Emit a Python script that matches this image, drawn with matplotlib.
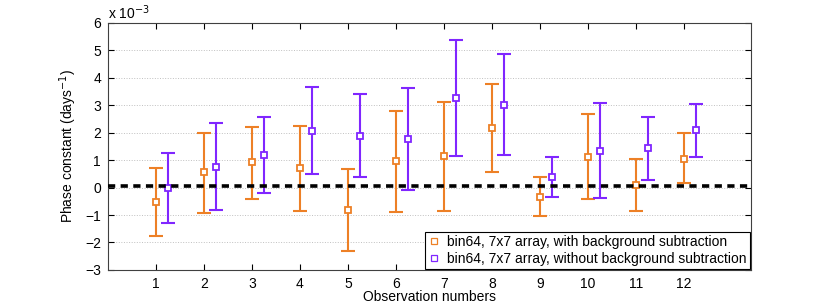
import numpy as np
import matplotlib.pyplot as plt

plt.rcParams['font.family'] = ['Liberation Sans', 'DejaVu Sans']

# ----- DATA (units of 1e-3 days^-1) -----
obs = np.arange(1, 13)

bg_val = [-0.52, 0.55, 0.93, 0.70, -0.82, 0.97, 1.15, 2.16, -0.33, 1.13, 0.08, 1.05]
bg_top = [0.73, 2.00, 2.22, 2.25, 0.67, 2.80, 3.13, 3.76, 0.40, 2.68, 1.05, 1.98]
bg_bot = [-1.78, -0.92, -0.40, -0.86, -2.30, -0.88, -0.87, 0.56, -1.03, -0.42, -0.86, 0.17]

nobg_val = [-0.03, 0.76, 1.17, 2.06, 1.88, 1.77, 3.26, 3.02, 0.40, 1.34, 1.43, 2.08]
nobg_top = [1.26, 2.35, 2.56, 3.66, 3.39, 3.64, 5.38, 4.86, 1.13, 3.07, 2.58, 3.06]
nobg_bot = [-1.28, -0.83, -0.18, 0.48, 0.38, -0.10, 1.14, 1.17, -0.34, -0.37, 0.28, 1.11]

mean_level = 0.07

orange = (0.93, 0.50, 0.15)
purple = (0.50, 0.15, 1.00)

# ----- PLOT -----
fig = plt.figure(figsize=(8.3, 3.04), dpi=100)
ax = fig.add_axes([0.130, 0.112, 0.775, 0.813])

bg_val = np.array(bg_val)
nobg_val = np.array(nobg_val)
bg_err = [bg_val - np.array(bg_bot), np.array(bg_top) - bg_val]
nobg_err = [nobg_val - np.array(nobg_bot), np.array(nobg_top) - nobg_val]

ax.errorbar(obs, bg_val, yerr=bg_err, fmt='none', ecolor=orange, elinewidth=1.5,
            capsize=5, capthick=1.5, zorder=3)
ax.errorbar(obs + 0.25, nobg_val, yerr=nobg_err, fmt='none', ecolor=purple, elinewidth=1.5,
            capsize=5, capthick=1.5, zorder=3)
ax.plot(obs, bg_val, 's', mfc='white', mec=orange, ms=5, mew=1.3, zorder=4,
        label='bin64, 7x7 array, with background subtraction')
ax.plot(obs + 0.25, nobg_val, 's', mfc='white', mec=purple, ms=5, mew=1.3, zorder=4,
        label='bin64, 7x7 array, without background subtraction')

ax.axhline(mean_level, color='black', lw=2.6, ls=(0, (2, 1.5)), zorder=5)

ax.set_xlim(0, 13.4)
ax.set_ylim(-3, 6)
ax.set_xticks(obs)
ax.set_yticks(np.arange(-3, 7))
ax.tick_params(direction='in', top=True, right=True, labelsize=10, length=4, pad=5)
ax.grid(axis='y', ls=':', color='#c0c0c0', lw=0.7)
for s in ax.spines.values():
    s.set_color('#404040')
    s.set_linewidth(0.8)

ax.text(0.0, 1.005, r'x 10$^{-3}$', transform=ax.transAxes, fontsize=10,
        ha='left', va='bottom')
ax.set_xlabel('Observation numbers', fontsize=10, labelpad=-1)
ax.set_ylabel('Phase constant (days$^{-1}$)', fontsize=10, labelpad=4)

leg = ax.legend(loc='lower right', fontsize=10, borderaxespad=0.1, handlelength=0.8,
                handletextpad=0.6, borderpad=0.2, labelspacing=0.2, fancybox=False,
                framealpha=1, edgecolor='black')
leg.get_frame().set_linewidth(0.8)
for h in leg.legend_handles:
    h.set_markersize(4.5)
    h.set_markeredgewidth(0.9)

fig.savefig('out.png', dpi=100)
